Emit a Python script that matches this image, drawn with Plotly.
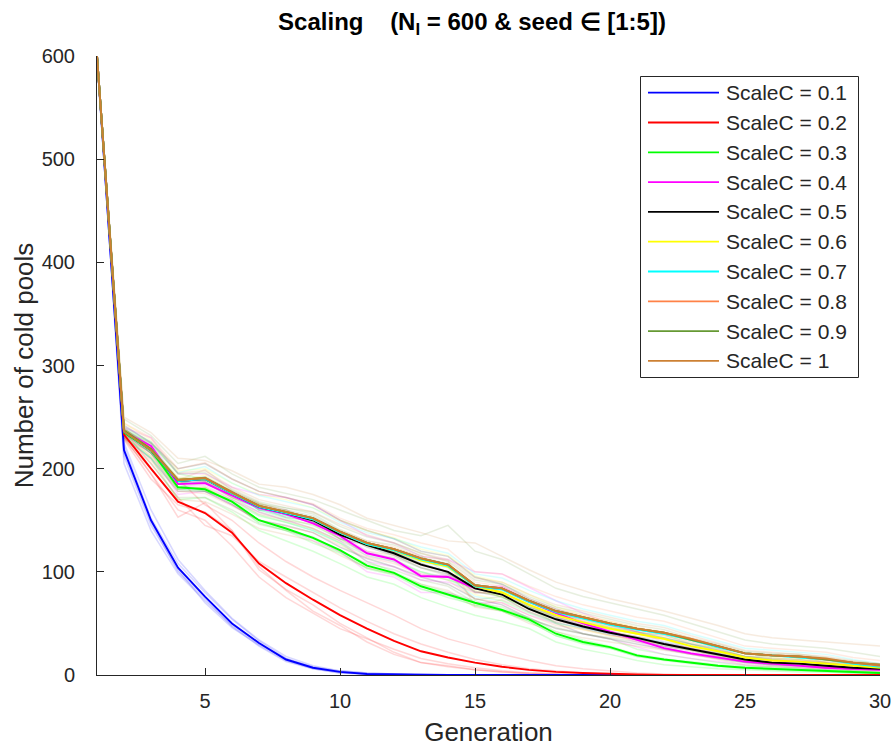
import plotly.graph_objects as go

generations = list(range(1, 31))
scale_labels = ["ScaleC = 0.1", "ScaleC = 0.2", "ScaleC = 0.3", "ScaleC = 0.4", "ScaleC = 0.5",
                "ScaleC = 0.6", "ScaleC = 0.7", "ScaleC = 0.8", "ScaleC = 0.9", "ScaleC = 1"]
colors = ["#0000FF", "#FF0000", "#00FF00", "#FF00FF", "#000000",
          "#FFFF00", "#00FFFF", "#FF8247", "#669933", "#CC8033"]

# mean over seeds (bold lines)
mean_01 = [600, 218, 150, 104, 76, 50, 31, 15, 7, 3, 1, 0.5, 0, 0, 0, 0, 0, 0, 0, 0, 0, 0, 0, 0, 0, 0, 0, 0, 0, 0]
mean_02 = [600, 233, 200, 168, 157, 138, 108, 89, 73, 58, 45, 33, 23, 17, 12, 8, 5, 3, 2, 1, 0.5, 0, 0, 0, 0, 0, 0, 0, 0, 0]
mean_03 = [600, 235, 218, 182, 180, 168, 150, 142, 133, 121, 106, 99, 86, 78, 70, 63, 54, 40, 32, 27, 19, 15, 12, 9, 7, 6, 5, 4, 3, 2]
mean_04 = [600, 236, 222, 185, 186, 174, 162, 156, 147, 135, 118, 112, 96, 95, 84, 84, 71, 60, 50, 42, 34, 26, 21, 17, 13, 11, 9, 7, 6, 5]
mean_05 = [600, 236, 218, 188, 190, 176, 163, 157, 150, 136, 126, 118, 107, 100, 84, 78, 64, 54, 47, 41, 36, 30, 25, 20, 15, 12, 11, 9, 7, 6]
mean_06 = [600, 237, 219, 189, 191, 176, 164, 158, 151, 138, 127, 121, 111, 105, 86, 80, 68, 58, 51, 45, 40, 35, 28, 23, 17, 14, 13, 11, 9, 7]
mean_07 = [600, 236, 218, 188, 190, 176, 163, 157, 151, 138, 127, 121, 112, 106, 86, 83, 71, 61, 55, 49, 44, 40, 34, 27, 21, 19, 17, 15, 11, 8]
mean_08 = [600, 237, 219, 189, 191, 177, 164, 158, 152, 139, 128, 122, 113, 107, 87, 84, 72, 62, 56, 50, 45, 41, 35, 28, 21, 19, 18, 15, 12, 9]
mean_09 = [600, 237, 219, 189, 191, 177, 164, 158, 152, 139, 128, 122, 113, 107, 87, 84, 72, 62, 56, 50, 45, 41, 34, 28, 21, 19, 18, 15, 12, 10]
mean_10 = [600, 236, 218, 189, 191, 177, 164, 158, 152, 139, 128, 122, 113, 107, 87, 84, 72, 62, 56, 50, 45, 41, 35, 28, 21, 19, 18, 16, 12, 10]

# individual seeds (faint lines)
seeds_01 = [
    [600, 205, 140, 98, 72, 48, 30, 16, 8, 4, 2, 1, 0, 0, 0, 0, 0, 0, 0, 0, 0, 0, 0, 0, 0, 0, 0, 0, 0, 0],
    [600, 225, 160, 112, 82, 55, 34, 18, 9, 4, 2, 1, 0, 0, 0, 0, 0, 0, 0, 0, 0, 0, 0, 0, 0, 0, 0, 0, 0, 0],
    [600, 215, 148, 100, 74, 47, 28, 13, 6, 2, 1, 0, 0, 0, 0, 0, 0, 0, 0, 0, 0, 0, 0, 0, 0, 0, 0, 0, 0, 0],
    [600, 222, 152, 108, 80, 54, 33, 16, 7, 3, 1, 0, 0, 0, 0, 0, 0, 0, 0, 0, 0, 0, 0, 0, 0, 0, 0, 0, 0, 0],
    [600, 212, 145, 102, 70, 46, 29, 14, 6, 2, 1, 0, 0, 0, 0, 0, 0, 0, 0, 0, 0, 0, 0, 0, 0, 0, 0, 0, 0, 0],
]
seeds_02 = [
    [600, 240, 215, 190, 165, 150, 128, 110, 95, 82, 70, 58, 45, 35, 28, 20, 14, 9, 6, 4, 2, 1, 0, 0, 0, 0, 0, 0, 0, 0],
    [600, 230, 195, 160, 150, 125, 95, 75, 60, 45, 35, 25, 16, 11, 7, 4, 2, 1, 0, 0, 0, 0, 0, 0, 0, 0, 0, 0, 0, 0],
    [600, 228, 190, 165, 158, 140, 105, 82, 62, 48, 32, 20, 12, 8, 5, 3, 2, 1, 0, 0, 0, 0, 0, 0, 0, 0, 0, 0, 0, 0],
    [600, 236, 205, 172, 145, 135, 110, 95, 80, 65, 52, 40, 30, 22, 15, 10, 6, 4, 2, 1, 0, 0, 0, 0, 0, 0, 0, 0, 0, 0],
    [600, 231, 195, 153, 167, 140, 102, 83, 68, 50, 36, 22, 12, 9, 5, 3, 1, 0, 0, 0, 0, 0, 0, 0, 0, 0, 0, 0, 0, 0],
]
seeds_03 = [
    [600, 238, 225, 195, 190, 178, 160, 152, 145, 132, 118, 112, 100, 92, 85, 75, 65, 50, 40, 35, 25, 20, 16, 12, 9, 7, 6, 5, 4, 3],
    [600, 232, 210, 170, 172, 158, 140, 130, 120, 108, 95, 88, 75, 66, 58, 52, 45, 32, 25, 20, 14, 10, 8, 6, 5, 4, 3, 3, 2, 1],
    [600, 236, 222, 185, 178, 170, 155, 148, 140, 128, 110, 100, 88, 80, 72, 64, 56, 42, 34, 28, 20, 16, 12, 9, 7, 6, 5, 4, 3, 2],
    [600, 234, 215, 180, 182, 166, 148, 140, 128, 118, 104, 98, 84, 75, 68, 62, 52, 38, 30, 26, 18, 14, 11, 8, 6, 5, 4, 3, 2, 2],
    [600, 235, 218, 180, 178, 168, 147, 140, 132, 119, 103, 97, 83, 77, 67, 62, 52, 38, 31, 26, 18, 15, 13, 10, 8, 8, 7, 5, 4, 2],
]
seeds_04 = [
    [600, 240, 230, 195, 195, 182, 175, 172, 165, 150, 135, 128, 115, 112, 100, 98, 85, 72, 60, 50, 42, 32, 26, 21, 16, 13, 11, 9, 7, 6],
    [600, 232, 215, 175, 178, 165, 150, 142, 130, 120, 100, 95, 80, 80, 70, 70, 58, 50, 40, 35, 27, 20, 16, 13, 10, 9, 7, 6, 5, 4],
    [600, 236, 224, 188, 186, 176, 165, 160, 150, 136, 120, 112, 98, 96, 86, 86, 72, 60, 50, 42, 34, 26, 21, 17, 13, 11, 9, 7, 6, 5],
    [600, 238, 220, 182, 184, 170, 158, 150, 142, 130, 110, 105, 92, 90, 80, 80, 68, 57, 48, 40, 32, 25, 20, 16, 12, 10, 8, 7, 5, 4],
    [600, 234, 221, 185, 187, 177, 162, 156, 148, 134, 115, 110, 95, 97, 84, 86, 72, 61, 52, 43, 35, 27, 22, 18, 14, 12, 10, 6, 7, 6],
]
seeds_05 = [
    [600, 242, 225, 200, 205, 190, 178, 172, 165, 150, 140, 132, 120, 115, 95, 88, 74, 64, 56, 48, 42, 36, 30, 24, 18, 15, 13, 11, 9, 7],
    [600, 230, 210, 178, 178, 165, 150, 145, 138, 124, 113, 105, 95, 88, 74, 68, 55, 45, 40, 35, 30, 25, 20, 16, 12, 10, 9, 7, 6, 5],
    [600, 236, 218, 190, 188, 175, 165, 155, 150, 136, 127, 120, 108, 100, 84, 78, 64, 54, 46, 41, 36, 30, 25, 20, 15, 12, 11, 9, 7, 6],
    [600, 238, 222, 185, 192, 178, 160, 160, 148, 138, 124, 116, 104, 98, 86, 80, 66, 56, 48, 42, 37, 31, 26, 21, 16, 12, 11, 9, 7, 6],
    [600, 234, 215, 187, 187, 172, 162, 153, 149, 132, 126, 117, 108, 99, 81, 76, 61, 51, 45, 39, 35, 28, 24, 19, 14, 11, 11, 9, 6, 6],
]
seeds_06 = [
    [600, 244, 228, 198, 200, 186, 175, 170, 162, 150, 140, 133, 122, 116, 96, 90, 78, 66, 58, 52, 46, 40, 33, 28, 21, 17, 15, 13, 11, 9],
    [600, 232, 212, 180, 182, 168, 154, 148, 142, 128, 116, 110, 100, 94, 78, 72, 60, 50, 44, 38, 34, 30, 24, 19, 14, 11, 11, 9, 7, 5],
    [600, 238, 220, 192, 190, 176, 166, 160, 150, 140, 128, 122, 112, 105, 88, 80, 68, 58, 52, 46, 40, 35, 28, 23, 17, 14, 13, 11, 9, 7],
    [600, 236, 216, 186, 194, 178, 162, 156, 152, 136, 126, 120, 110, 106, 86, 82, 70, 60, 50, 44, 40, 34, 28, 23, 17, 15, 13, 11, 9, 7],
    [600, 235, 219, 189, 189, 172, 163, 156, 149, 136, 125, 120, 111, 104, 82, 76, 64, 56, 51, 45, 40, 36, 27, 22, 16, 13, 13, 11, 9, 7],
]
seeds_07 = [
    [600, 240, 226, 196, 202, 186, 174, 168, 162, 148, 138, 132, 124, 118, 98, 94, 82, 72, 64, 58, 52, 48, 40, 33, 26, 24, 22, 20, 15, 11],
    [600, 232, 210, 180, 180, 168, 154, 148, 140, 128, 116, 110, 100, 94, 76, 72, 60, 50, 46, 40, 36, 32, 28, 22, 16, 14, 12, 10, 8, 6],
    [600, 238, 222, 190, 192, 178, 166, 160, 154, 140, 128, 122, 112, 106, 88, 84, 72, 62, 56, 50, 44, 40, 34, 27, 21, 19, 17, 15, 11, 8],
    [600, 234, 216, 186, 186, 174, 160, 154, 150, 136, 126, 120, 110, 104, 84, 82, 70, 60, 54, 48, 44, 40, 34, 26, 21, 19, 17, 15, 11, 8],
    [600, 236, 216, 188, 190, 174, 161, 155, 149, 138, 127, 121, 114, 108, 84, 83, 71, 61, 55, 49, 44, 40, 34, 27, 21, 19, 17, 15, 10, 7],
]
seeds_08 = [
    [600, 244, 230, 200, 206, 190, 178, 172, 166, 152, 142, 136, 128, 122, 100, 98, 86, 76, 68, 62, 56, 52, 44, 36, 28, 26, 24, 22, 17, 14],
    [600, 230, 208, 178, 176, 164, 150, 144, 138, 126, 114, 108, 98, 92, 74, 70, 58, 48, 44, 38, 34, 30, 26, 20, 14, 12, 11, 9, 7, 5],
    [600, 238, 220, 190, 192, 178, 166, 160, 154, 140, 130, 124, 114, 108, 90, 86, 74, 64, 58, 52, 46, 42, 36, 29, 22, 20, 19, 16, 13, 10],
    [600, 236, 218, 188, 190, 176, 162, 156, 150, 138, 126, 120, 112, 106, 86, 84, 72, 62, 56, 50, 45, 41, 35, 28, 21, 19, 18, 15, 12, 9],
    [600, 237, 219, 189, 191, 177, 164, 158, 152, 139, 128, 122, 113, 107, 85, 82, 70, 60, 54, 48, 44, 40, 34, 27, 20, 18, 18, 13, 11, 7],
]
seeds_09 = [
    [600, 248, 232, 205, 212, 195, 182, 176, 170, 160, 150, 140, 135, 145, 120, 112, 98, 84, 76, 70, 64, 58, 50, 42, 34, 30, 28, 26, 22, 18],
    [600, 230, 205, 172, 172, 160, 146, 140, 134, 120, 108, 102, 92, 86, 70, 66, 54, 46, 40, 36, 32, 28, 24, 18, 12, 10, 9, 8, 6, 4],
    [600, 238, 224, 195, 196, 180, 168, 162, 158, 144, 134, 128, 118, 110, 92, 88, 76, 66, 60, 54, 48, 44, 36, 30, 23, 21, 20, 17, 13, 11],
    [600, 235, 215, 182, 186, 172, 158, 150, 142, 130, 118, 114, 104, 96, 80, 78, 66, 56, 50, 44, 40, 36, 30, 24, 18, 16, 15, 12, 10, 8],
    [600, 234, 219, 191, 189, 178, 166, 162, 156, 141, 130, 126, 116, 98, 73, 76, 66, 58, 54, 46, 41, 39, 30, 26, 18, 18, 18, 12, 9, 9],
]
seeds_10 = [
    [600, 250, 235, 210, 208, 198, 185, 182, 175, 165, 152, 145, 138, 130, 128, 115, 102, 90, 82, 74, 68, 62, 55, 48, 40, 36, 34, 32, 30, 28],
    [600, 228, 200, 170, 168, 156, 142, 136, 130, 116, 104, 98, 88, 82, 66, 62, 50, 42, 36, 32, 28, 24, 20, 15, 10, 8, 7, 6, 5, 3],
    [600, 240, 226, 196, 198, 182, 170, 164, 158, 146, 136, 128, 118, 112, 94, 90, 78, 68, 62, 56, 50, 46, 38, 31, 24, 22, 20, 18, 14, 11],
    [600, 234, 212, 180, 182, 170, 156, 150, 146, 132, 120, 116, 106, 100, 80, 80, 68, 58, 52, 46, 42, 38, 32, 25, 18, 16, 15, 12, 8, 6],
    [600, 228, 217, 189, 199, 179, 167, 158, 151, 136, 128, 123, 115, 111, 67, 73, 62, 52, 48, 42, 37, 35, 25, 21, 13, 13, 14, 12, 3, 2],
]

means = [mean_01, mean_02, mean_03, mean_04, mean_05, mean_06, mean_07, mean_08, mean_09, mean_10]
seeds = [seeds_01, seeds_02, seeds_03, seeds_04, seeds_05, seeds_06, seeds_07, seeds_08, seeds_09, seeds_10]

FONT = "Liberation Sans, Arial, Helvetica, sans-serif"
AX = "#262626"
W, H = 893, 747
ML, MR, MT, MB = 97, 13, 56, 72
PW, PH = W - ML - MR, H - MT - MB


def px_to_paper(px, py):
    return (px - ML) / PW, (H - MB - py) / PH


fig = go.Figure()

for k, group in enumerate(seeds):
    for s in group:
        fig.add_trace(go.Scatter(x=generations, y=s, mode="lines",
                                 line=dict(color=colors[k], width=1.5),
                                 opacity=0.15, showlegend=False, hoverinfo="skip"))

for k, m in enumerate(means):
    fig.add_trace(go.Scatter(x=generations, y=m, mode="lines", name=scale_labels[k],
                             line=dict(color=colors[k], width=1.9), showlegend=False))

# MATLAB-style legend box (long line samples)
shapes = []
annotations = []
bx0, by0 = px_to_paper(640.5, 76.5)
bx1, by1 = px_to_paper(858.5, 377.5)
shapes.append(dict(type="rect", xref="paper", yref="paper", x0=bx0, x1=bx1, y0=by1, y1=by0,
                   line=dict(color=AX, width=1), fillcolor="white", layer="above"))
first_y, step = 92.7, 29.8
for k, lab in enumerate(scale_labels):
    yy = first_y + step * k
    lx0, ly = px_to_paper(648, yy)
    lx1, _ = px_to_paper(719, yy)
    tx, _ = px_to_paper(724, yy)
    shapes.append(dict(type="line", xref="paper", yref="paper", x0=lx0, x1=lx1, y0=ly, y1=ly,
                       line=dict(color=colors[k], width=1.8), layer="above"))
    annotations.append(dict(text=lab, xref="paper", yref="paper", x=tx, y=ly,
                            xanchor="left", yanchor="middle", showarrow=False,
                            font=dict(size=21, color=AX, family=FONT)))

fig.update_layout(
    width=W, height=H,
    margin=dict(l=ML, r=MR, t=MT, b=MB),
    paper_bgcolor="white", plot_bgcolor="white",
    font=dict(family=FONT, color=AX, size=20),
    title=dict(text="<b>Scaling\u00a0\u00a0\u00a0\u00a0(N<sub>I</sub> = 600 & seed \u2208 [1:5])</b>",
               x=472 / W, xref="container", xanchor="center", y=1 - 22 / H, yanchor="middle",
               font=dict(size=24, color="black")),
    showlegend=False,
    shapes=shapes,
    annotations=annotations,
    xaxis=dict(range=[1, 30], tickvals=[5, 10, 15, 20, 25, 30], showgrid=False, zeroline=False,
               showline=True, linecolor=AX, linewidth=1, ticks="inside", ticklen=7,
               tickcolor=AX, tickfont=dict(size=20, color=AX), ticklabelstandoff=8,
               automargin=False,
               title=dict(text="Generation", font=dict(size=26, color=AX), standoff=17)),
    yaxis=dict(range=[0, 600], tickvals=[0, 100, 200, 300, 400, 500, 600], showgrid=False, zeroline=False,
               showline=True, linecolor=AX, linewidth=1, ticks="inside", ticklen=7,
               tickcolor=AX, tickfont=dict(size=20, color=AX), ticklabelstandoff=17,
               automargin=False,
               title=dict(text="Number of cold pools", font=dict(size=26, color=AX), standoff=0)),
)

fig.write_html("out.html")
